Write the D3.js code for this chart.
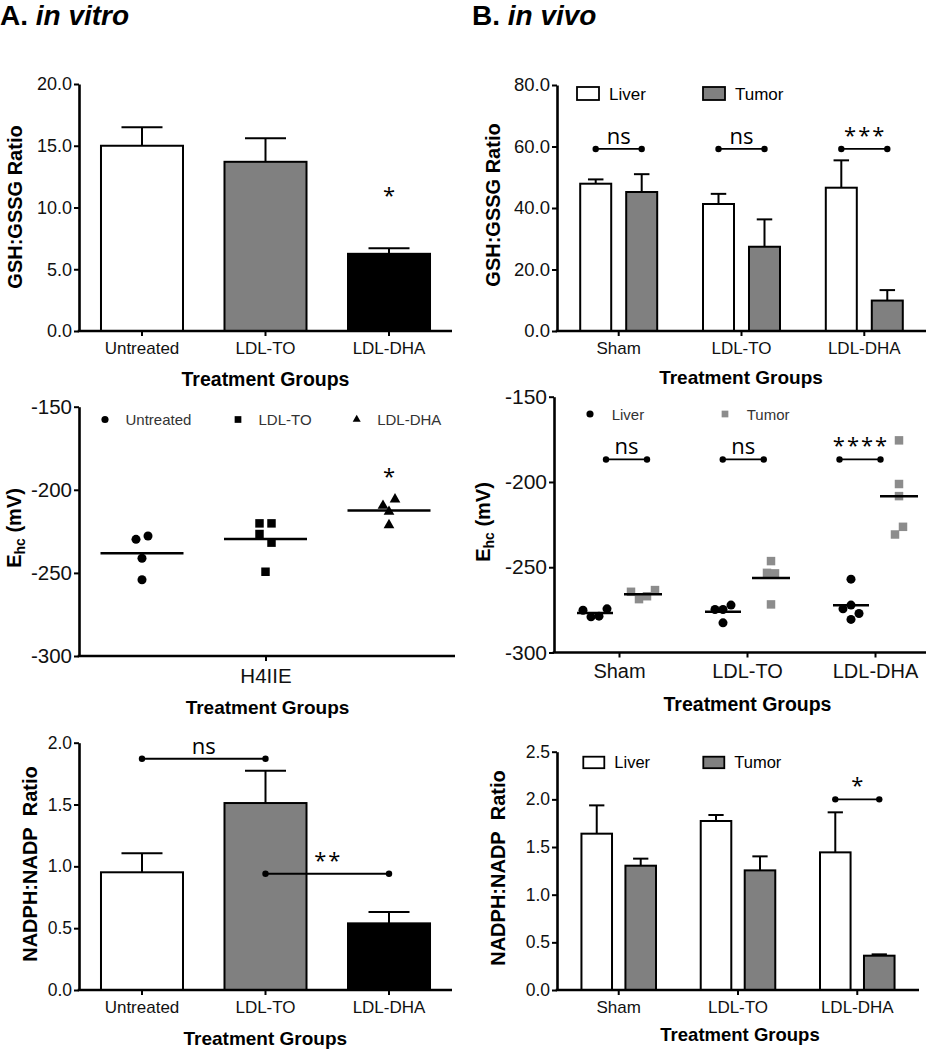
<!DOCTYPE html>
<html>
<head>
<meta charset="utf-8">
<script src="https://cdn.jsdelivr.net/npm/d3@7"></script>
<style>body{margin:0;background:#fff}</style>
</head>
<body>
<script>

// ---------- data ----------
var vitroGroups = ["Untreated", "LDL-TO", "LDL-DHA"];
var vivoGroups = ["Sham", "LDL-TO", "LDL-DHA"];
var tissues = ["Liver", "Tumor"];

// GSH:GSSG ratio (mean, upper error)
var gshVitro = [15.0, 13.7, 6.25];
var gshVitroErr = [1.5, 1.9, 0.45];
var gshLiver = [47.9, 41.3, 46.6];
var gshLiverErr = [1.4, 3.3, 8.9];
var gshTumor = [45.2, 27.4, 9.9];
var gshTumorErr = [5.8, 8.9, 3.4];
var gshVitroTicks = [0, 5, 10, 15, 20];
var gshVivoTicks = [0, 20, 40, 60, 80];

// Ehc (mV), single points
var ehcVitro = [
  [-229.8, -227.8, -241.2, -254.1],
  [-220.2, -220.2, -226.6, -231.8, -249.3],
  [-209.6, -205.7, -213.2, -221.2]
];
var ehcLiver = [
  [-275.2, -279.1, -278.7, -274.4],
  [-274.8, -274.8, -272.2, -282.6],
  [-257.0, -274.4, -272.2, -277.1, -280.6]
];
var ehcTumor = [
  [-264.4, -268.7, -267.0, -263.4],
  [-246.4, -253.3, -253.6, -271.8],
  [-175.6, -201.2, -208.3, -230.8, -226.3]
];
var ehcTicks = [-300, -250, -200, -150];

// NADPH:NADP ratio (mean, upper error)
var nadphVitro = [0.952, 1.512, 0.539];
var nadphVitroErr = [0.153, 0.262, 0.092];
var nadphLiver = [1.640, 1.773, 1.444];
var nadphLiverErr = [0.297, 0.063, 0.420];
var nadphTumor = [1.304, 1.255, 0.360];
var nadphTumorErr = [0.074, 0.147, 0.014];
var nadphVitroTicks = [0, 0.5, 1.0, 1.5, 2.0];
var nadphVivoTicks = [0, 0.5, 1.0, 1.5, 2.0, 2.5];

// significance marks
var gshVitroSig = [{group: "LDL-DHA", y: 10.4, label: "*"}];
var gshVivoSig = [
  {group: "Sham", y: 59.2, label: "ns"},
  {group: "LDL-TO", y: 59.2, label: "ns"},
  {group: "LDL-DHA", y: 59.2, label: "***"}
];
var ehcVitroSig = [{group: "LDL-DHA", y: -196.3, label: "*"}];
var ehcVivoSig = [
  {group: "Sham", y: -186.8, label: "ns"},
  {group: "LDL-TO", y: -186.8, label: "ns"},
  {group: "LDL-DHA", y: -186.8, label: "****"}
];
var nadphVitroSig = [
  {from: "Untreated", to: "LDL-TO", y: 1.87, label: "ns"},
  {from: "LDL-TO", to: "LDL-DHA", y: 0.94, label: "**"}
];
var nadphVivoSig = [{group: "LDL-DHA", y: 2.0, label: "*"}];

// ---------- page ----------
var FONT = "'Liberation Sans', Arial, sans-serif";
var SIGFONT = "'Open Sans', 'Noto Sans', sans-serif";
var vitroFill = ["#ffffff", "#808080", "#000000"];
var tissueFill = ["#ffffff", "#808080"];

var svg = d3.select("body").append("svg")
    .attr("width", 940)
    .attr("height", 1050)
    .style("font-family", FONT);

function panelTitle(x, letter, words) {
  var t = svg.append("text").attr("x", x).attr("y", 25)
      .attr("font-size", 28).attr("font-weight", "bold");
  t.append("tspan").text(letter + " ");
  t.append("tspan").attr("font-style", "italic").text(words);
}
panelTitle(0, "A.", "in vitro");
panelTitle(472, "B.", "in vivo");

function yAxis(left, y, ticks, fmt, fs) {
  var g = svg.append("g").attr("transform", "translate(" + left + ",0)")
      .call(d3.axisLeft(y).tickValues(ticks).tickFormat(fmt)
        .tickSize(5).tickSizeOuter(0).tickPadding(2));
  g.select(".domain").attr("stroke-width", 2.6);
  g.selectAll(".tick line").attr("stroke-width", 2);
  g.selectAll(".tick text").attr("font-size", fs).attr("font-family", FONT).attr("fill", "#111");
}

function xAxis(left, right, bottom, x, fs, labelY) {
  var g = svg.append("g").attr("transform", "translate(0," + bottom + ")")
      .call(d3.axisBottom(x).tickSize(5).tickSizeOuter(0));
  g.select(".domain").remove();
  g.selectAll(".tick line").attr("stroke-width", 2);
  g.selectAll(".tick text").attr("font-size", fs).attr("font-family", FONT)
      .attr("fill", "#111").attr("dy", null).attr("y", labelY);
  svg.append("line")
      .attr("x1", left - 1.3).attr("x2", right)
      .attr("y1", bottom).attr("y2", bottom)
      .attr("stroke", "#000").attr("stroke-width", 2.6);
}

function xTitle(x, y, fs) {
  svg.append("text").attr("x", x).attr("y", y)
      .attr("text-anchor", "middle").attr("font-weight", "bold")
      .attr("font-size", fs).text("Treatment Groups");
}

function yTitle(x, y, text) {
  svg.append("text")
      .attr("transform", "translate(" + x + "," + y + ") rotate(-90)")
      .attr("text-anchor", "middle").attr("font-weight", "bold")
      .attr("font-size", 20).text(text);
}

function ehcTitle(x, y) {
  var t = svg.append("text")
      .attr("transform", "translate(" + x + "," + y + ") rotate(-90)")
      .attr("text-anchor", "middle").attr("font-weight", "bold")
      .attr("font-size", 20);
  t.append("tspan").text("E");
  t.append("tspan").attr("font-size", 14).attr("dy", 4).text("hc");
  t.append("tspan").attr("dy", -4).text(" (mV)");
}

function sigText(x, y, label) {
  var stars = label !== "ns";
  svg.append("text").attr("x", x + (stars ? 1 : 0)).attr("y", y)
      .attr("text-anchor", "middle")
      .attr("font-family", SIGFONT)
      .attr("font-size", 22)
      .attr("letter-spacing", stars ? 2 : 0)
      .attr("fill", "#000")
      .text(label);
}

function bracket(x1, x2, yy, label) {
  svg.append("line").attr("x1", x1).attr("x2", x2).attr("y1", yy).attr("y2", yy)
      .attr("stroke", "#000").attr("stroke-width", 1.8);
  [x1, x2].forEach(function(cx) {
    svg.append("circle").attr("cx", cx).attr("cy", yy).attr("r", 3.2).attr("fill", "#000");
  });
  sigText((x1 + x2) / 2, yy - (label === "ns" ? 5 : 6), label);
}

function bars(data, x, y, fill) {
  // data: [{cx, w, v, e}]
  var g = svg.append("g");
  g.selectAll("rect").data(data).enter().append("rect")
      .attr("x", function(d) { return d.cx - d.w / 2; })
      .attr("y", function(d) { return y(d.v); })
      .attr("width", function(d) { return d.w; })
      .attr("height", function(d) { return y(0) - y(d.v); })
      .attr("fill", function(d, i) { return fill(d, i); })
      .attr("stroke", "#000").attr("stroke-width", 2);
  g.selectAll("line.err").data(data).enter().append("line").attr("class", "err")
      .attr("x1", function(d) { return d.cx; }).attr("x2", function(d) { return d.cx; })
      .attr("y1", function(d) { return y(d.v); })
      .attr("y2", function(d) { return y(d.v + d.e); })
      .attr("stroke", "#000").attr("stroke-width", 2);
  g.selectAll("line.cap").data(data).enter().append("line").attr("class", "cap")
      .attr("x1", function(d) { return d.cx - d.w / 4; })
      .attr("x2", function(d) { return d.cx + d.w / 4; })
      .attr("y1", function(d) { return y(d.v + d.e); })
      .attr("y2", function(d) { return y(d.v + d.e); })
      .attr("stroke", "#000").attr("stroke-width", 2);
}

// points that sit close in y share a row and spread sideways (GraphPad style)
function spread(vals, y, gap, step) {
  var order = d3.range(vals.length).sort(function(a, b) { return vals[b] - vals[a]; });
  var off = vals.map(function() { return 0; });
  var rows = [], row = [];
  order.forEach(function(k) {
    if (row.length && Math.abs(y(vals[k]) - y(vals[row[0]])) > gap) { rows.push(row); row = []; }
    row.push(k);
  });
  rows.push(row);
  rows.forEach(function(r) {
    r.sort(d3.ascending);
    r.forEach(function(k, j) { off[k] = (j - (r.length - 1) / 2) * step; });
  });
  return off;
}

function scatter(vals, cx, y, symbol, color, halfLine, step) {
  var off = spread(vals, y, 10, step);
  var g = svg.append("g");
  g.selectAll("path").data(vals).enter().append("path")
      .attr("d", symbol)
      .attr("transform", function(d, i) { return "translate(" + (cx + off[i]) + "," + y(d) + ")"; })
      .attr("fill", color);
  var m = d3.mean(vals);
  g.append("line").attr("x1", cx - halfLine).attr("x2", cx + halfLine)
      .attr("y1", y(m)).attr("y2", y(m))
      .attr("stroke", "#000").attr("stroke-width", 2.5);
}

var fmt1 = d3.format(".1f");
var fmtInt = function(d) { return String(d); };

var symCircle = d3.symbol(d3.symbolCircle, 64)();
var symSquare = d3.symbol(d3.symbolSquare, 72)();
var symTriangle = d3.symbol(d3.symbolTriangle, 50)();
var symCircleSm = d3.symbol(d3.symbolCircle, 40)();
var symSquareSm = d3.symbol(d3.symbolSquare, 45)();
var symTriangleSm = d3.symbol(d3.symbolTriangle, 28)();

// ---------- A, top: GSH:GSSG in vitro ----------
(function() {
  var left = 79, right = 452, top = 84, bottom = 331;
  var y = d3.scaleLinear().domain([0, 20]).range([bottom, top]);
  var x = d3.scaleBand().domain(vitroGroups).range([left, right]).paddingInner(0.336).paddingOuter(0.178);
  bars(vitroGroups.map(function(g, i) {
    return {cx: x(g) + x.bandwidth() / 2, w: x.bandwidth(), v: gshVitro[i], e: gshVitroErr[i]};
  }), x, y, function(d, i) { return vitroFill[i]; });
  yAxis(left, y, gshVitroTicks, fmt1, 18);
  xAxis(left, right, bottom, x, 17, 23);
  gshVitroSig.forEach(function(s) {
    sigText(x(s.group) + x.bandwidth() / 2, y(s.y), s.label);
  });
  yTitle(22, 207, "GSH:GSSG Ratio");
  xTitle(265.5, 386, 19.5);
})();

// ---------- B, top: GSH:GSSG in vivo ----------
(function() {
  var left = 557, right = 926, top = 85, bottom = 331;
  var y = d3.scaleLinear().domain([0, 80]).range([bottom, top]);
  var x = d3.scaleBand().domain(vivoGroups).range([left, right]).paddingInner(0.373).paddingOuter(0.189);
  var xs = d3.scaleBand().domain(tissues).range([0, x.bandwidth()]).paddingInner(0.326);
  var data = [];
  vivoGroups.forEach(function(g, i) {
    data.push({cx: x(g) + xs("Liver") + xs.bandwidth() / 2, w: xs.bandwidth(), v: gshLiver[i], e: gshLiverErr[i], t: 0});
    data.push({cx: x(g) + xs("Tumor") + xs.bandwidth() / 2, w: xs.bandwidth(), v: gshTumor[i], e: gshTumorErr[i], t: 1});
  });
  bars(data, x, y, function(d) { return tissueFill[d.t]; });
  yAxis(left, y, gshVivoTicks, fmt1, 18.5);
  xAxis(left, right, bottom, x, 17, 23);
  gshVivoSig.forEach(function(s) {
    bracket(x(s.group) + xs("Liver") + xs.bandwidth() / 2,
            x(s.group) + xs("Tumor") + xs.bandwidth() / 2, y(s.y), s.label);
  });
  // legend
  [577, 703].forEach(function(lx, i) {
    svg.append("rect").attr("x", lx).attr("y", 87).attr("width", 22).attr("height", 13)
        .attr("fill", tissueFill[i]).attr("stroke", "#000").attr("stroke-width", 1.8);
    svg.append("text").attr("x", lx + 32).attr("y", 100).attr("font-size", 17).text(tissues[i]);
  });
  yTitle(500, 205, "GSH:GSSG Ratio");
  xTitle(741, 384, 19);
})();

// ---------- A, middle: Ehc in vitro ----------
(function() {
  var left = 79, right = 455, top = 406.7, bottom = 656;
  var y = d3.scaleLinear().domain([-300, -150]).range([bottom, top]);
  var x = d3.scalePoint().domain(vitroGroups).range([142, 389]);
  var mid = (x("Untreated") + x("LDL-DHA")) / 2;
  var syms = [symCircle, symSquare, symTriangle];
  vitroGroups.forEach(function(g, i) {
    scatter(ehcVitro[i], x(g), y, syms[i], "#000", 41.5, 12);
  });
  yAxis(left, y, ehcTicks, fmtInt, 20.5);
  xAxis(left, right, bottom, d3.scalePoint().domain(["H4IIE"]).range([mid, mid]), 20.5, 27);
  ehcVitroSig.forEach(function(s) { sigText(x(s.group), y(s.y), s.label); });
  // legend
  var symSm = [symCircleSm, symSquareSm, symTriangleSm];
  [105, 238, 356.7].forEach(function(lx, i) {
    svg.append("path").attr("d", symSm[i]).attr("transform", "translate(" + lx + ",419.5)").attr("fill", "#000");
    svg.append("text").attr("x", lx + 20.5).attr("y", 424.5).attr("font-size", 15)
        .attr("fill", "#333").text(vitroGroups[i]);
  });
  ehcTitle(21, 528);
  xTitle(267.5, 714, 19);
})();

// ---------- B, middle: Ehc in vivo ----------
(function() {
  var left = 554, right = 926, top = 396.7, bottom = 652.5;
  var y = d3.scaleLinear().domain([-300, -150]).range([bottom, top]);
  var x = d3.scalePoint().domain(vivoGroups).range([left + 65, right - 51]);
  var xs = d3.scalePoint().domain(tissues).range([-24, 24]);
  // the significance bars were laid out on their own spacing in the original
  var xSig = d3.scalePoint().domain(vivoGroups).range([626.5, 860]);
  vivoGroups.forEach(function(g, i) {
    scatter(ehcLiver[i], x(g) + xs("Liver"), y, symCircle, "#000", 18, 8);
    scatter(ehcTumor[i], x(g) + xs("Tumor"), y, symSquare, "#8c8c8c", 19, 8);
  });
  yAxis(left, y, ehcTicks, fmtInt, 21);
  xAxis(left, right, bottom, x, 20, 25.5);
  ehcVivoSig.forEach(function(s) {
    bracket(xSig(s.group) - 20.5, xSig(s.group) + 20.5, y(s.y), s.label);
  });
  // legend
  svg.append("path").attr("d", symCircleSm).attr("transform", "translate(590,414)").attr("fill", "#000");
  svg.append("text").attr("x", 611.7).attr("y", 420).attr("font-size", 15).attr("fill", "#333").text("Liver");
  svg.append("path").attr("d", symSquareSm).attr("transform", "translate(725,414)").attr("fill", "#8c8c8c");
  svg.append("text").attr("x", 746.7).attr("y", 420).attr("font-size", 15).attr("fill", "#333").text("Tumor");
  ehcTitle(490, 522);
  xTitle(747.5, 710.7, 19.5);
})();

// ---------- A, bottom: NADPH:NADP in vitro ----------
(function() {
  var left = 79, right = 452, top = 742.7, bottom = 990;
  var y = d3.scaleLinear().domain([0, 2]).range([bottom, top]);
  var x = d3.scaleBand().domain(vitroGroups).range([left, right]).paddingInner(0.336).paddingOuter(0.178);
  bars(vitroGroups.map(function(g, i) {
    return {cx: x(g) + x.bandwidth() / 2, w: x.bandwidth(), v: nadphVitro[i], e: nadphVitroErr[i]};
  }), x, y, function(d, i) { return vitroFill[i]; });
  yAxis(left, y, nadphVitroTicks, fmt1, 17.5);
  xAxis(left, right, bottom, x, 17, 23);
  nadphVitroSig.forEach(function(s) {
    bracket(x(s.from) + x.bandwidth() / 2, x(s.to) + x.bandwidth() / 2, y(s.y), s.label);
  });
  yTitle(36.5, 864, "NADPH:NADP\u00a0 Ratio");
  xTitle(265.3, 1045, 19);
})();

// ---------- B, bottom: NADPH:NADP in vivo ----------
(function() {
  var left = 557, right = 919, top = 751.7, bottom = 990;
  var y = d3.scaleLinear().domain([0, 2.5]).range([bottom, top]);
  var x = d3.scaleBand().domain(vivoGroups).range([left, right]).paddingInner(0.375).paddingOuter(0.205);
  var xs = d3.scaleBand().domain(tissues).range([0, x.bandwidth()]).paddingInner(0.305);
  var data = [];
  vivoGroups.forEach(function(g, i) {
    data.push({cx: x(g) + xs("Liver") + xs.bandwidth() / 2, w: xs.bandwidth(), v: nadphLiver[i], e: nadphLiverErr[i], t: 0});
    data.push({cx: x(g) + xs("Tumor") + xs.bandwidth() / 2, w: xs.bandwidth(), v: nadphTumor[i], e: nadphTumorErr[i], t: 1});
  });
  bars(data, x, y, function(d) { return tissueFill[d.t]; });
  yAxis(left, y, nadphVivoTicks, fmt1, 17.5);
  xAxis(left, right, bottom, x, 17, 23);
  nadphVivoSig.forEach(function(s) {
    bracket(x(s.group) + xs("Liver") + xs.bandwidth() / 2,
            x(s.group) + xs("Tumor") + xs.bandwidth() / 2, y(s.y), s.label);
  });
  [583.3, 703.3].forEach(function(lx, i) {
    svg.append("rect").attr("x", lx).attr("y", 756.7).attr("width", 21).attr("height", 11.5)
        .attr("fill", tissueFill[i]).attr("stroke", "#000").attr("stroke-width", 1.8);
    svg.append("text").attr("x", lx + 31).attr("y", 768).attr("font-size", 16.5).text(tissues[i]);
  });
  yTitle(505, 868, "NADPH:NADP\u00a0 Ratio");
  xTitle(740, 1041, 18.5);
})();

</script>
</body>
</html>
